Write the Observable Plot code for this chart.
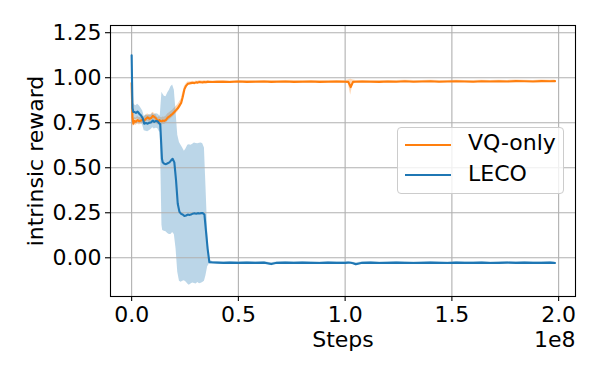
<!DOCTYPE html>
<html>
<head>
<meta charset="utf-8">
<script src="https://cdn.jsdelivr.net/npm/d3@7"></script>
<script src="https://cdn.jsdelivr.net/npm/@observablehq/plot@0.6"></script>
<style>
  html, body { margin: 0; padding: 0; background: white; }
  #wrap { position: relative; width: 600px; height: 375px; font-family: "DejaVu Sans", sans-serif; }
  #legend { position: absolute; left: 397px; top: 127px; width: 167px; height: 67px;
            border: 1px solid #cccccc; border-radius: 4px; background: rgba(255,255,255,0.8); box-sizing: border-box; }
  .lg-line { position: absolute; left: 7px; width: 46px; height: 2px; }
  .lg-text { position: absolute; left: 70px; font-size: 22px; line-height: 22px; color: black; white-space: nowrap; }
</style>
</head>
<body>
<div id="wrap"></div>
<script>
// Steps in units of 1e8
const stepsEarly = [
  0, 0.004, 0.008, 0.0125, 0.020, 0.028, 0.036, 0.044, 0.052, 0.059,
  0.067, 0.075, 0.083, 0.091, 0.099, 0.106, 0.114, 0.122, 0.130, 0.134,
  0.142, 0.1455, 0.153, 0.161, 0.169, 0.177, 0.184, 0.192, 0.200, 0.208,
  0.216, 0.224, 0.232, 0.239, 0.247, 0.255, 0.263, 0.270, 0.278, 0.286,
  0.294, 0.302, 0.310, 0.318, 0.326, 0.333, 0.341, 0.348, 0.356, 0.364
];
const stepsLate = [
  0.38, 0.40, 0.43, 0.46, 0.50, 0.54, 0.58, 0.62, 0.654, 0.68,
  0.72, 0.76, 0.80, 0.84, 0.88, 0.92, 0.96, 1.00, 1.015, 1.026,
  1.037, 1.05, 1.08, 1.12, 1.16, 1.20, 1.24, 1.28, 1.32, 1.36,
  1.40, 1.44, 1.48, 1.52, 1.56, 1.60, 1.64, 1.68, 1.72, 1.76,
  1.80, 1.84, 1.88, 1.92, 1.96, 1.983
];

// VQ-only mean and spread
const vqEarly = [
  0.97, 0.78, 0.745, 0.76, 0.755, 0.765, 0.758, 0.762, 0.768, 0.762,
  0.772, 0.78, 0.772, 0.776, 0.788, 0.782, 0.775, 0.758, 0.765, 0.76,
  0.758, 0.762, 0.76, 0.766, 0.778, 0.785, 0.792, 0.80, 0.81, 0.82,
  0.83, 0.845, 0.86, 0.892, 0.935, 0.955, 0.966, 0.968, 0.97, 0.972,
  0.97, 0.974, 0.973, 0.976, 0.975, 0.974, 0.976, 0.975, 0.977, 0.976
];
const vqLate = [
  0.976, 0.977, 0.978, 0.976, 0.979, 0.977, 0.978, 0.979, 0.977, 0.978,
  0.979, 0.977, 0.978, 0.979, 0.977, 0.978, 0.979, 0.978, 0.977, 0.948,
  0.977, 0.978, 0.979, 0.978, 0.977, 0.979, 0.978, 0.980, 0.978, 0.979,
  0.980, 0.978, 0.979, 0.980, 0.979, 0.978, 0.980, 0.979, 0.980, 0.979,
  0.981, 0.980, 0.979, 0.981, 0.980, 0.981
];
const vqSdEarly = [
  0.03, 0.03, 0.02, 0.02, 0.02, 0.02, 0.02, 0.02, 0.02, 0.02,
  0.02, 0.02, 0.02, 0.02, 0.02, 0.02, 0.02, 0.02, 0.02, 0.02,
  0.02, 0.02, 0.02, 0.02, 0.02, 0.02, 0.02, 0.02, 0.02, 0.02,
  0.02, 0.02, 0.02, 0.02, 0.015, 0.01, 0.01, 0.008, 0.008, 0.008,
  0.008, 0.008, 0.008, 0.008, 0.008, 0.008, 0.008, 0.008, 0.008, 0.008
];
const vqSdLate = [
  0.006, 0.006, 0.006, 0.006, 0.006, 0.006, 0.006, 0.006, 0.006, 0.006,
  0.006, 0.006, 0.006, 0.006, 0.006, 0.006, 0.006, 0.006, 0.01, 0.045,
  0.01, 0.006, 0.006, 0.006, 0.006, 0.006, 0.006, 0.006, 0.006, 0.006,
  0.006, 0.006, 0.006, 0.006, 0.006, 0.006, 0.006, 0.006, 0.006, 0.006,
  0.006, 0.006, 0.006, 0.006, 0.006, 0.006
];

// LECO mean and spread
const lecoEarly = [
  1.124, 0.83, 0.81, 0.81, 0.805, 0.812, 0.80, 0.79, 0.775, 0.745,
  0.748, 0.745, 0.75, 0.752, 0.762, 0.755, 0.76, 0.758, 0.745, 0.742,
  0.55, 0.531, 0.522, 0.52, 0.525, 0.53, 0.54, 0.55, 0.53, 0.43,
  0.30, 0.255, 0.244, 0.24, 0.232, 0.235, 0.24, 0.238, 0.24, 0.245,
  0.247, 0.245, 0.248, 0.246, 0.248, 0.248, 0.24, 0.15, 0.05, -0.024
];
const lecoLate = [
  -0.026, -0.027, -0.028, -0.027, -0.028, -0.027, -0.028, -0.027, -0.035, -0.028,
  -0.027, -0.028, -0.027, -0.028, -0.029, -0.027, -0.028, -0.028, -0.027, -0.028,
  -0.030, -0.036, -0.028, -0.027, -0.029, -0.028, -0.027, -0.028, -0.029, -0.028,
  -0.027, -0.028, -0.029, -0.027, -0.028, -0.028, -0.027, -0.029, -0.028, -0.027,
  -0.028, -0.027, -0.028, -0.028, -0.027, -0.029
];
const lecoSdEarly = [
  0.10, 0.07, 0.05, 0.04, 0.04, 0.04, 0.045, 0.04, 0.04, 0.04,
  0.045, 0.045, 0.045, 0.04, 0.04, 0.04, 0.04, 0.04, 0.045, 0.045,
  0.37, 0.38, 0.375, 0.375, 0.39, 0.40, 0.41, 0.41, 0.40, 0.38,
  0.38, 0.385, 0.38, 0.37, 0.36, 0.37, 0.385, 0.39, 0.385, 0.385,
  0.39, 0.39, 0.385, 0.39, 0.39, 0.385, 0.37, 0.25, 0.10, 0.01
];
const lecoSdLate = [
  0.005, 0.005, 0.005, 0.005, 0.005, 0.005, 0.005, 0.005, 0.008, 0.005,
  0.005, 0.005, 0.005, 0.005, 0.005, 0.005, 0.005, 0.005, 0.005, 0.005,
  0.005, 0.008, 0.005, 0.005, 0.005, 0.005, 0.005, 0.005, 0.005, 0.005,
  0.005, 0.005, 0.005, 0.005, 0.005, 0.005, 0.005, 0.005, 0.005, 0.005,
  0.005, 0.005, 0.005, 0.005, 0.005, 0.005
];

const xTicks = [0, 0.5, 1.0, 1.5, 2.0];
const yTicks = [0, 0.25, 0.5, 0.75, 1.0, 1.25];
const seriesNames = ["VQ-only", "LECO"];
const seriesColors = ["#ff7f0e", "#1f77b4"];

const steps = stepsEarly.concat(stepsLate);
const vq = vqEarly.concat(vqLate);
const vqSd = vqSdEarly.concat(vqSdLate);
const leco = lecoEarly.concat(lecoLate);
const lecoSd = lecoSdEarly.concat(lecoSdLate);

const rows = steps.map((s, i) => ({
  s,
  vq: vq[i], vqLo: vq[i] - vqSd[i], vqHi: vq[i] + vqSd[i],
  leco: leco[i], lecoLo: leco[i] - lecoSd[i], lecoHi: leco[i] + lecoSd[i]
}));

const font = "DejaVu Sans";
const chart = Plot.plot({
  width: 600,
  height: 375,
  marginLeft: 110,
  marginRight: 25,
  marginTop: 25,
  marginBottom: 79,
  x: {domain: [-0.099, 2.079], label: null},
  y: {domain: [-0.215, 1.29], label: null},
  style: {fontFamily: font, fontSize: "22px", color: "black", background: "white"},
  marks: [
    Plot.areaY(rows, {x: "s", y1: "vqLo", y2: "vqHi", fill: seriesColors[0], fillOpacity: 0.3, curve: "linear"}),
    Plot.areaY(rows, {x: "s", y1: "lecoLo", y2: "lecoHi", fill: seriesColors[1], fillOpacity: 0.3, curve: "linear"}),
    Plot.gridX(xTicks, {stroke: "#b0b0b0", strokeOpacity: 1, strokeWidth: 1.1}),
    Plot.gridY(yTicks, {stroke: "#b0b0b0", strokeOpacity: 1, strokeWidth: 1.1}),
    Plot.lineY(rows, {x: "s", y: "vq", stroke: seriesColors[0], strokeWidth: 2.1}),
    Plot.lineY(rows, {x: "s", y: "leco", stroke: seriesColors[1], strokeWidth: 2.1}),
    Plot.axisX(xTicks, {tickSize: 5, tickPadding: 5, fontSize: 22, strokeWidth: 1.1, label: null, tickFormat: d => d.toFixed(1)}),
    Plot.axisY(yTicks, {tickSize: 5, tickPadding: 4, fontSize: 22, strokeWidth: 1.1, label: null, tickFormat: d => d.toFixed(2)}),
    Plot.frame({stroke: "black", strokeWidth: 1.1}),
    Plot.text(["Steps"], {text: d => d, frameAnchor: "bottom", textAnchor: "middle", dy: 50, lineAnchor: "bottom", fontSize: 22}),
    Plot.text(["1e8"], {text: d => d, frameAnchor: "bottom-right", textAnchor: "end", dy: 50, lineAnchor: "bottom", fontSize: 22}),
    Plot.text(["intrinsic reward"], {text: d => d, frameAnchor: "left", textAnchor: "middle", rotate: -90, dx: -68, lineAnchor: "bottom", fontSize: 22})
  ]
});

const wrap = document.getElementById("wrap");
wrap.appendChild(chart);

const legend = document.createElement("div");
legend.id = "legend";
const lineTops = [15.5, 46];
const textTops = [4, 35];
seriesNames.forEach((name, i) => {
  const ln = document.createElement("div");
  ln.className = "lg-line";
  ln.style.top = lineTops[i] + "px";
  ln.style.background = seriesColors[i];
  legend.appendChild(ln);
  const tx = document.createElement("div");
  tx.className = "lg-text";
  tx.style.top = textTops[i] + "px";
  tx.textContent = name;
  legend.appendChild(tx);
});
wrap.appendChild(legend);
</script>
</body>
</html>
